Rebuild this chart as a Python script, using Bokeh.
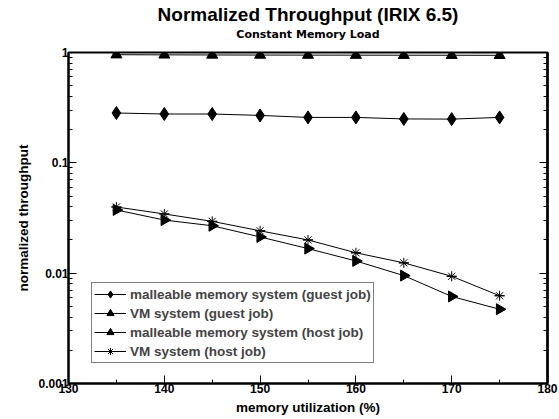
import math
from bokeh.plotting import figure
from bokeh.models import FixedTicker, LogAxis, Title, Legend, LegendItem
from bokeh.embed import file_html
from bokeh.resources import INLINE

# ---- data ----
utilization = [135, 140, 145, 150, 155, 160, 165, 170, 175]
mm_guest = [0.283, 0.277, 0.277, 0.269, 0.258, 0.258, 0.250, 0.249, 0.258]
vm_guest = [0.0374, 0.0303, 0.0269, 0.0213, 0.0167, 0.0129, 0.0095, 0.00615, 0.00471]
mm_host = [0.955, 0.952, 0.950, 0.948, 0.947, 0.946, 0.945, 0.944, 0.943]
vm_host = [0.0398, 0.0344, 0.0295, 0.0242, 0.0200, 0.0153, 0.0124, 0.00937, 0.00624]

x_ticks = [130, 140, 150, 160, 170, 180]
x_minor = [135, 145, 155, 165, 175]
y_ticks = [0.001, 0.01, 0.1, 1]
y_tick_labels = ["0.001", "0.01", "0.1", "1"]
y_minor = [m * 10 ** k for k in (-3, -2, -1) for m in range(2, 10)]

FONT = "Liberation Sans"
WIDE = "DejaVu Sans"

p = figure(width=559, height=419, y_axis_type="log",
           x_range=(130, 180), y_range=(0.001, 1),
           output_backend="svg", toolbar_location=None,
           title="Normalized Throughput (IRIX 6.5)",
           min_border_left=68, min_border_right=12, min_border_top=4, min_border_bottom=36)

p.title.text_font = FONT
p.title.text_font_size = "19px"
p.title.text_font_style = "bold"
p.title.text_color = "black"
p.title.align = "center"
p.title.standoff = 2
p.title.offset = 0
# panels listed first sit nearest the frame
spacer = Title(text=" ", text_font_size="2px", standoff=8)
p.add_layout(spacer, "above")
sub_title = Title(text="Constant Memory Load", align="center",
                  text_font=WIDE, text_font_size="11px", text_font_style="bold",
                  text_color="black", standoff=0)
p.add_layout(sub_title, "above")

p.xgrid.visible = False
p.ygrid.visible = False
p.outline_line_color = "black"
p.outline_line_width = 2

# x axis
xa = p.xaxis[0]
xa.ticker = FixedTicker(ticks=x_ticks, minor_ticks=x_minor)
x_label = Title(text="memory utilization (%)", align="center",
                text_font=FONT, text_font_size="13.5px", text_font_style="bold",
                text_color="black", standoff=4)
p.add_layout(x_label, "below")

# y axis
ya = p.yaxis[0]
ya.ticker = FixedTicker(ticks=y_ticks, minor_ticks=y_minor)
ya.major_label_overrides = {t: s for t, s in zip(y_ticks, y_tick_labels)}
ya.axis_label = "normalized throughput"

for ax in (xa, ya):
    ax.axis_line_width = 2
    ax.major_tick_in = 8
    ax.major_tick_out = 0
    ax.minor_tick_in = 4
    ax.minor_tick_out = 0
    ax.major_tick_line_width = 1
    ax.minor_tick_line_width = 1
    ax.major_label_text_font = FONT
    ax.major_label_text_font_size = "12px"
    ax.major_label_text_font_style = "bold"
    ax.major_label_text_color = "black"
    ax.axis_label_text_font = FONT
    ax.axis_label_text_font_size = "13.5px"
    ax.axis_label_text_font_style = "bold"
    ax.axis_label_text_color = "black"
    ax.major_label_standoff = 0
    ax.axis_label_standoff = 4

# right side: tick marks only (no labels, so the axes take no room)
ra_minor = LogAxis(ticker=FixedTicker(ticks=[], minor_ticks=y_minor))
ra_major = LogAxis(ticker=FixedTicker(ticks=[], minor_ticks=y_ticks))
for ra in (ra_minor, ra_major):
    ra.axis_line_width = 2
    ra.major_tick_in = 0
    ra.major_tick_out = 0
    ra.minor_tick_out = 0
    ra.major_label_standoff = 0
    ra.axis_label = None
ra_minor.minor_tick_in = 4
ra_major.minor_tick_in = 8
p.add_layout(ra_minor, "right")
p.add_layout(ra_major, "right")

LW = 1
items = []

l1 = p.line(utilization, mm_guest, line_color="black", line_width=LW)
s1 = p.scatter(utilization, mm_guest, marker="diamond", size=13,
               fill_color="black", line_color="black")
items.append(LegendItem(label="malleable memory system (guest job)", renderers=[l1, s1]))

l2 = p.line(utilization, vm_guest, line_color="black", line_width=LW)
s2 = p.scatter(utilization, vm_guest, marker="triangle", angle=-math.pi / 2, size=11,
               fill_color="black", line_color="black")
items.append(LegendItem(label="VM system (guest job)", renderers=[l2, s2]))

l3 = p.line(utilization, mm_host, line_color="black", line_width=LW)
s3 = p.scatter(utilization, mm_host, marker="triangle", size=11,
               fill_color="black", line_color="black")
items.append(LegendItem(label="malleable memory system (host job)", renderers=[l3, s3]))

l4 = p.line(utilization, vm_host, line_color="black", line_width=LW)
s4 = p.scatter(utilization, vm_host, marker="asterisk", size=10,
               line_color="black", line_width=1)
s4b = p.scatter(utilization, vm_host, marker="dash", size=10,
                line_color="black", line_width=1)
items.append(LegendItem(label="VM system (host job)", renderers=[l4, s4, s4b]))

legend = Legend(items=items, location=(23, 20))
legend.label_text_font = FONT
legend.label_text_font_size = "13.5px"
legend.label_text_font_style = "bold"
legend.label_height = 18
legend.glyph_height = 18
legend.glyph_width = 32
legend.spacing = 1
legend.padding = 2
legend.margin = 0
legend.label_standoff = 4
legend.border_line_color = "black"
legend.border_line_width = 1
legend.background_fill_alpha = 1
p.add_layout(legend, "center")

open("out.html", "w").write(file_html(p, INLINE))
